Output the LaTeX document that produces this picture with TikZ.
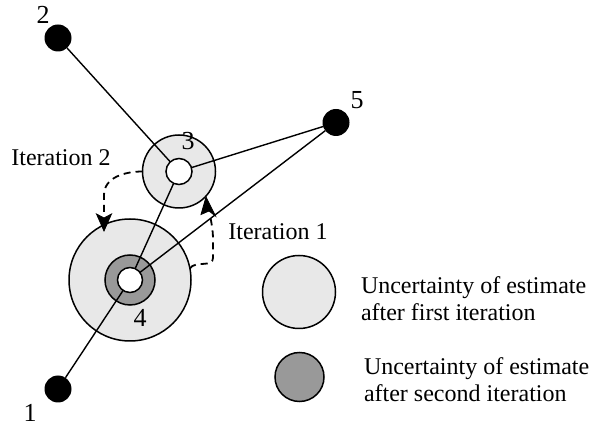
\documentclass[tikz,border=0pt]{standalone}
\usepackage{fontspec}
\setmainfont{Liberation Serif}[Ligatures=TeX]
\usetikzlibrary{arrows.meta}
\definecolor{lightg}{gray}{0.91}
\definecolor{darkg}{gray}{0.60}
\tikzset{
  every node/.style={inner sep=0pt, outer sep=0pt},
  lightc/.style={circle, draw, line width=1.5pt, fill=lightg},
  darkc/.style={circle, draw, line width=1.5pt, fill=darkg},
  whitec/.style={circle, draw, line width=1.5pt, fill=white},
  blackdot/.style={circle, fill=black, minimum size=27pt},
  link/.style={line width=1.4pt},
  iter/.style={line width=1.8pt, dash pattern=on 7pt off 5pt},
  tiphead/.style={fill=black, draw=black, line width=0.8pt, line join=miter},
  txt/.style={font=\fontsize{24}{27}\selectfont},
  num/.style={font=\fontsize{26}{28}\selectfont},
}
\begin{document}
\begin{tikzpicture}[x=1pt,y=-1pt]
\useasboundingbox (0,0) rectangle (592,427);
% uncertainty circles
\node[lightc, minimum size=73pt] (c3) at (179,171.5) {};
\node[lightc, minimum size=122pt] (c4) at (130,280) {};
\node[darkc, minimum size=50pt] (r4) at (130,280) {};
% inner estimates and anchors
\node[whitec, minimum size=26pt] (n3) at (179,171.5) {};
\node[whitec, minimum size=25pt] (n4) at (130,280) {};
\node[blackdot] (n1) at (58,389) {};
\node[blackdot] (n2) at (58,38) {};
\node[blackdot] (n5) at (336,122.5) {};
% links
\draw[link] (n2) -- (n3);
\draw[link] (n5) -- (n3);
\draw[link] (n5) -- (n4);
\draw[link] (n1) -- (n4);
\draw[link] (n3) -- (n4);
% labels
\node[num] (l2) at (43,15) {2};
\node[num] (l1) at (30,413) {1};
\node[num] (l3) at (188,141) {3};
\node[num] (l4) at (140,318) {4};
\node[num] (l5) at (357,100) {5};
\node[txt] (it2) at (61,158) {Iteration 2};
\node[txt] (it1) at (278,232) {Iteration 1};
% iteration arrows
\coordinate (t2) at (104,231);
\coordinate (t1) at (206,197);
\draw[iter] (c3.west) to[out=180,in=90] (104,195) -- (104,216);
\draw[tiphead] (t2) -- (96.5,214) -- (104,218) -- (111.5,214) -- cycle;
\draw[iter] (c4.11) to[out=55,in=-90] (213,258) -- (213,240) to[out=90,in=-80] (210,215);
\draw[tiphead] (t1) -- (201,214.5) -- (209,211) -- (215.5,216) -- cycle;
% legend
\node[lightc, minimum size=73pt] (lg1) at (299,292) {};
\node[darkc, minimum size=49pt] (lg2) at (299.5,377) {};
\node[txt, anchor=west, align=left] (lt1) at (361,299) {Uncertainty of estimate\\after first iteration};
\node[txt, anchor=west, align=left] (lt2) at (364,380) {Uncertainty of estimate\\after second iteration};
\end{tikzpicture}
\end{document}
